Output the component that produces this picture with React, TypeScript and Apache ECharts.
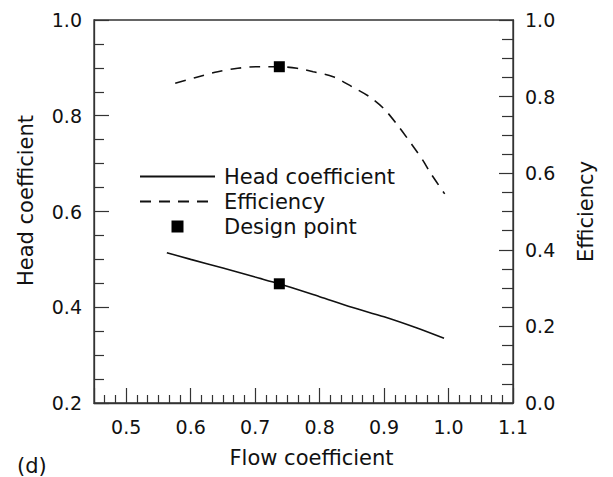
import React, { useEffect, useRef } from "react";
import * as echarts from "echarts";

// Flow coefficient vs. head coefficient (left axis)
const flowHead = [0.563, 0.6, 0.65, 0.7, 0.7375, 0.8, 0.85, 0.9, 0.95, 0.993];
const headCoeff = [0.514, 0.5, 0.482, 0.463, 0.449, 0.422, 0.4, 0.38, 0.357, 0.335];

// Flow coefficient vs. efficiency (right axis)
const flowEff = [0.576, 0.608, 0.642, 0.673, 0.703, 0.7375, 0.765, 0.79, 0.821, 0.85, 0.877, 0.9, 0.922, 0.943, 0.96, 0.971, 0.994];
const efficiency = [0.835, 0.85, 0.865, 0.874, 0.878, 0.878, 0.874, 0.865, 0.852, 0.826, 0.8, 0.768, 0.723, 0.675, 0.634, 0.603, 0.546];

// Design point
const designFlow = 0.7375;
const designHead = 0.449;
const designEff = 0.878;

const FONT = "DejaVu Sans";
const INK = "#111";
const AXIS = "#333";
const HIDDEN = { color: "rgba(0,0,0,0)", borderWidth: 0, borderColor: "rgba(0,0,0,0)" };
const SQUARE = "path://M0,0L10,0L10,10L0,10Z";

export default function App() {
  const ref = useRef<HTMLDivElement>(null);

  useEffect(() => {
    document.body.style.margin = "0";
    const chart = echarts.init(ref.current!, null, { renderer: "svg" });
    const fmt = (v: number) => v.toFixed(1);

    const yCommon = {
      type: "value",
      interval: 0.2,
      nameLocation: "middle",
      nameRotate: 90,
      axisLine: { show: true, lineStyle: { color: AXIS, width: 1.3 } },
      splitLine: { show: false },
      axisLabel: { formatter: fmt, fontFamily: FONT, fontSize: 19, color: INK, margin: 12 },
    };

    chart.setOption({
      animation: false,
      backgroundColor: "#fff",
      grid: {
        left: 94,
        right: 100,
        top: 20,
        bottom: 74,
        show: true,
        borderColor: AXIS,
        borderWidth: 1.3,
        containLabel: false,
        outerBoundsMode: "none",
      },
      legend: {
        orient: "vertical",
        left: 139,
        top: 166,
        padding: 0,
        itemWidth: 75,
        itemHeight: 12,
        itemGap: 4,
        selectedMode: false,
        symbolKeepAspect: true,
        textStyle: { fontFamily: FONT, fontSize: 21, color: INK, padding: [0, 0, 0, 4] },
        data: [
          { name: "Head coefficient", itemStyle: HIDDEN },
          { name: "Efficiency", itemStyle: HIDDEN },
          { name: "Design point", icon: SQUARE, itemStyle: { color: "#000" } },
        ],
      },
      xAxis: {
        type: "value",
        min: 0.45,
        max: 1.1,
        name: "Flow coefficient",
        nameLocation: "middle",
        nameGap: 44,
        nameTextStyle: { fontFamily: FONT, fontSize: 21, color: INK, padding: [0, 0, 0, 16] },
        axisLine: { show: true, lineStyle: { color: AXIS, width: 1.3 } },
        axisTick: { show: true, inside: true, length: 15, lineStyle: { color: AXIS, width: 1.2 } },
        minorTick: { show: true, splitNumber: 6, length: 8, lineStyle: { color: AXIS, width: 1.2 } },
        splitLine: { show: false },
        axisLabel: { formatter: fmt, showMinLabel: false, fontFamily: FONT, fontSize: 19, color: INK, margin: 14 },
      },
      yAxis: [
        {
          ...yCommon,
          min: 0.2,
          max: 1.0,
          position: "left",
          name: "Head coefficient",
          nameGap: 58,
          nameTextStyle: { fontFamily: FONT, fontSize: 21, color: INK, padding: [0, 0, 0, 22] },
          axisTick: { show: true, inside: true, length: 15, lineStyle: { color: AXIS, width: 1.2 } },
          minorTick: { show: true, splitNumber: 4, length: 10, lineStyle: { color: AXIS, width: 1.2 } },
        },
        {
          ...yCommon,
          min: 0,
          max: 1.0,
          position: "right",
          name: "Efficiency",
          nameGap: 62,
          nameTextStyle: { fontFamily: FONT, fontSize: 21, color: INK },
          axisTick: { show: true, inside: true, length: 14, lineStyle: { color: AXIS, width: 1.2 } },
          minorTick: { show: true, splitNumber: 4, length: 11, lineStyle: { color: AXIS, width: 1.2 } },
        },
      ],
      series: [
        {
          name: "Head coefficient",
          type: "line",
          yAxisIndex: 0,
          data: flowHead.map((x, i) => [x, headCoeff[i]]),
          smooth: 0.3,
          symbol: "none",
          lineStyle: { color: INK, width: 1.6, type: "solid" },
          itemStyle: { color: INK },
          z: 2,
        },
        {
          name: "Efficiency",
          type: "line",
          yAxisIndex: 1,
          data: flowEff.map((x, i) => [x, efficiency[i]]),
          smooth: 0.3,
          symbol: "none",
          lineStyle: { color: INK, width: 1.6, type: [11, 8] },
          itemStyle: { color: INK },
          z: 2,
        },
        {
          name: "Design point",
          type: "scatter",
          yAxisIndex: 0,
          symbol: "rect",
          symbolSize: 11,
          itemStyle: { color: "#000", opacity: 1 },
          data: [[designFlow, designHead]],
          z: 3,
        },
        {
          name: "Design point",
          type: "scatter",
          yAxisIndex: 1,
          symbol: "rect",
          symbolSize: 11,
          itemStyle: { color: "#000", opacity: 1 },
          data: [[designFlow, designEff]],
          z: 3,
        },
      ],
      graphic: [
        {
          type: "text",
          left: 17,
          bottom: 1,
          style: { text: "(d)", fontFamily: FONT, fontSize: 21, fill: INK },
        },
      ],
    });

    return () => chart.dispose();
  }, []);

  return <div ref={ref} style={{ width: 613, height: 477 }} />;
}
